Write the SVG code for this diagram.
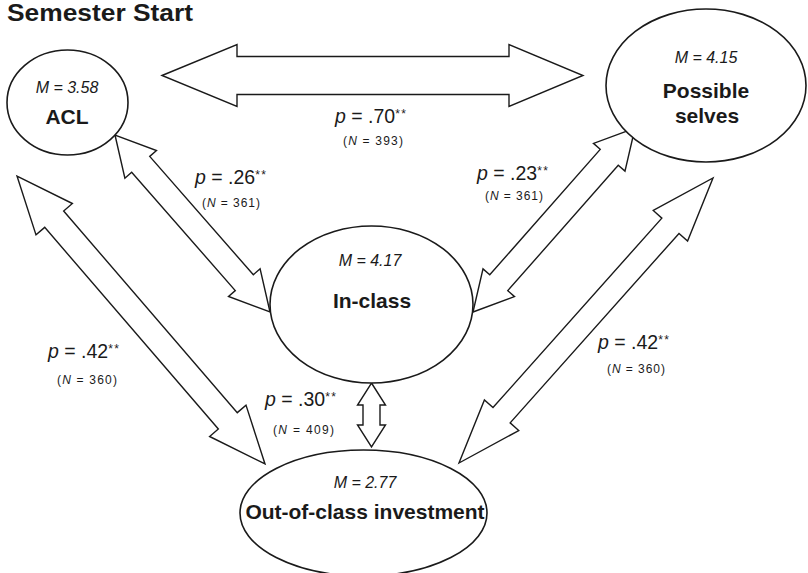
<svg xmlns="http://www.w3.org/2000/svg" width="808" height="573" viewBox="0 0 808 573">
<style>
.bg{fill:#ffffff}
.node{fill:#ffffff;stroke:#1a1a1a;stroke-width:1.6}
.arr{fill:#ffffff;stroke:#1a1a1a;stroke-width:1.4;stroke-linejoin:miter}
.title{font-family:"Liberation Sans",Arial,sans-serif;font-weight:bold;font-size:23px;fill:#1a1a1a}
.m{font-family:"Liberation Sans",Arial,sans-serif;font-style:italic;font-size:16px;fill:#1a1a1a;text-anchor:middle}
.lbl{font-family:"Liberation Sans",Arial,sans-serif;font-weight:bold;font-size:21px;fill:#1a1a1a;text-anchor:middle}
.p{font-family:"Liberation Sans",Arial,sans-serif;font-size:19.5px;fill:#1a1a1a}
.st{font-size:12px;letter-spacing:1.5px}
.n{font-family:"Liberation Sans",Arial,sans-serif;font-size:12px;fill:#1a1a1a}
.i{font-style:italic}
</style>
<rect class="bg" x="0" y="0" width="808" height="573"/>
<text class="title" x="7" y="21" textLength="186" lengthAdjust="spacingAndGlyphs">Semester Start</text>

<g id="connectors">
  <polygon id="c-acl-ps" class="arr" points="162,75.5 237,44.5 237,56.5 509,56.5 509,44.5 583,75.5 509,106.5 509,94.5 237,94.5 237,106.5"/>
  <polygon id="c-acl-in" class="arr" points="115,135 124.89,178.17 131.66,172.25 235.28,290.57 228.51,296.49 270,312 260.11,268.83 253.34,274.75 149.72,156.43 156.49,150.51"/>
  <polygon id="c-in-ps" class="arr" points="473,312 514.53,296.61 507.78,290.66 618.24,165.2 624.99,171.15 635,128 593.47,143.39 600.22,149.34 489.76,274.8 483.01,268.85"/>
  <polygon id="c-acl-out" class="arr" points="17,176 36,234.85 44.72,227.35 218.34,428.97 209.62,436.47 265,464 246,405.15 237.28,412.65 63.66,211.03 72.38,203.53"/>
  <polygon id="c-ps-out" class="arr" points="459,463 518.75,430.52 510.16,422.87 679,233.43 687.59,241.08 713,178 653.25,210.48 661.84,218.13 493,407.57 484.41,399.92"/>
  <polygon id="c-in-out" class="arr" points="371.5,383 385.5,405 380,405 380,425 385.5,425 371.5,447 357.5,425 363,425 363,405 357.5,405"/>

  <text class="p" x="335" y="123"><tspan class="i">p</tspan> = .70<tspan class="st" dy="-5">**</tspan></text>
  <text class="n" x="343" y="145" textLength="60" lengthAdjust="spacing">(<tspan class="i">N</tspan> = 393)</text>

  <text class="p" x="195" y="184"><tspan class="i">p</tspan> = .26<tspan class="st" dy="-5">**</tspan></text>
  <text class="n" x="202" y="207" textLength="58" lengthAdjust="spacing">(<tspan class="i">N</tspan> = 361)</text>

  <text class="p" x="477" y="179.5"><tspan class="i">p</tspan> = .23<tspan class="st" dy="-5">**</tspan></text>
  <text class="n" x="485" y="200" textLength="58" lengthAdjust="spacing">(<tspan class="i">N</tspan> = 361)</text>

  <text class="p" x="48" y="357.5"><tspan class="i">p</tspan> = .42<tspan class="st" dy="-5">**</tspan></text>
  <text class="n" x="57" y="384" textLength="60" lengthAdjust="spacing">(<tspan class="i">N</tspan> = 360)</text>

  <text class="p" x="598" y="349"><tspan class="i">p</tspan> = .42<tspan class="st" dy="-5">**</tspan></text>
  <text class="n" x="607" y="373" textLength="58" lengthAdjust="spacing">(<tspan class="i">N</tspan> = 360)</text>

  <text class="p" x="265" y="406"><tspan class="i">p</tspan> = .30<tspan class="st" dy="-5">**</tspan></text>
  <text class="n" x="273" y="434" textLength="61" lengthAdjust="spacing">(<tspan class="i">N</tspan> = 409)</text>
</g>

<g id="node-acl">
  <ellipse class="node" cx="67.5" cy="102.5" rx="60.5" ry="52.5"/>
  <text class="m" x="67" y="93">M = 3.58</text>
  <text class="lbl" x="67" y="124">ACL</text>
</g>

<g id="node-possible-selves">
  <ellipse class="node" cx="706" cy="85.5" rx="100" ry="76.5"/>
  <text class="m" x="706" y="63">M = 4.15</text>
  <text class="lbl" x="706" y="98">Possible</text>
  <text class="lbl" x="707" y="123">selves</text>
</g>

<g id="node-in-class">
  <ellipse class="node" cx="371.5" cy="304.5" rx="101.5" ry="78.5"/>
  <text class="m" x="370" y="266">M = 4.17</text>
  <text class="lbl" x="372" y="308">In-class</text>
</g>

<g id="node-out-of-class">
  <ellipse class="node" cx="363.5" cy="513" rx="123.5" ry="63"/>
  <text class="m" x="365" y="488">M = 2.77</text>
  <text class="lbl" x="365" y="519">Out-of-class investment</text>
</g>
</svg>
